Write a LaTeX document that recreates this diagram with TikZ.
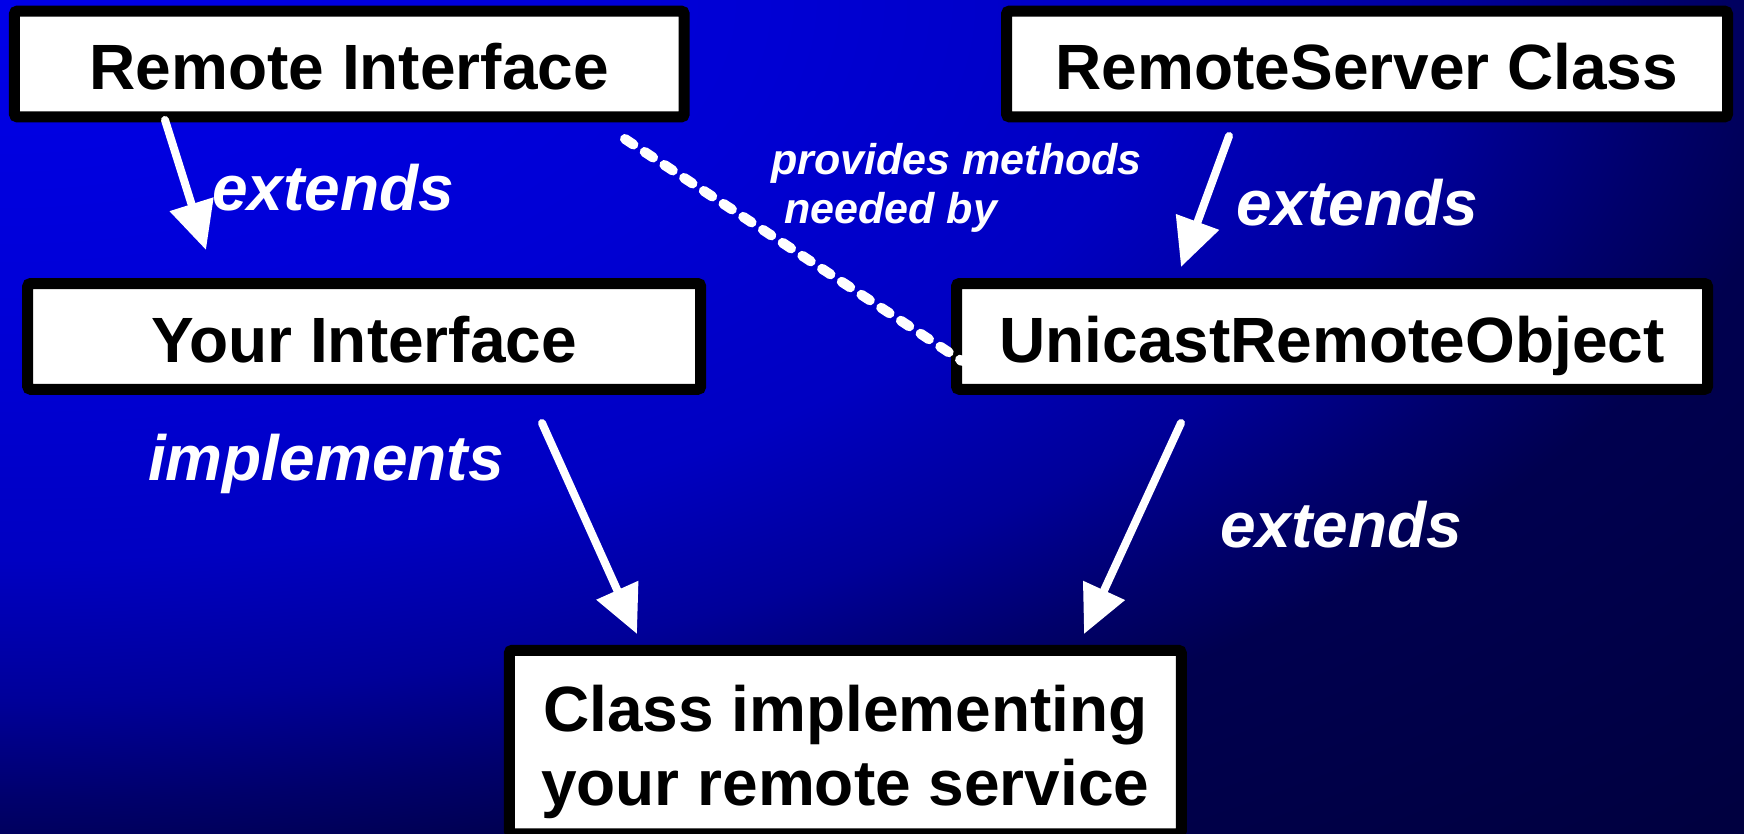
\documentclass[tikz,border=0pt]{standalone}
\usepackage{fontspec}
\setmainfont{Liberation Sans}
\usetikzlibrary{arrows.meta}

% backdrop: bright blue glow from the top-left corner fading to navy
% (the path edge sits at 25bp, i.e. twice the picture size)
\pgfdeclareradialshading{bgglow}{\pgfpoint{0bp}{0bp}}{%
  rgb(0bp)=(0,0,0.91);
  rgb(5.5bp)=(0,0,0.83);
  rgb(8.4bp)=(0,0,0.76);
  rgb(10.5bp)=(0,0,0.60);
  rgb(12bp)=(0,0,0.42);
  rgb(13.1bp)=(0,0,0.31);
  rgb(17.5bp)=(0,0,0.25);
  rgb(25bp)=(0,0,0.22);
  rgb(50bp)=(0,0,0.22)}

\tikzset{
  classbox/.style={draw=black, fill=white, line width=5.5pt, rounded corners=1.5pt,
    inner sep=0pt, text=black, text height=26pt, text depth=0pt,
    font=\bfseries\fontsize{32}{36}\selectfont},
  boxtext/.style={inner sep=0pt, anchor=base, text=black,
    font=\bfseries\fontsize{32}{36}\selectfont},
  relarrow/.style={draw=white, line width=4pt, line cap=round,
    -{Triangle[length=24pt,width=22pt]}},
  uselink/.style={draw=white, line width=5pt, line cap=round,
    dash pattern=on 5pt off 6.8pt},
  rellabel/.style={text=white, inner sep=0pt, anchor=base,
    font=\bfseries\itshape\fontsize{32}{36}\selectfont},
  notelabel/.style={text=white, inner sep=0pt, anchor=base west,
    font=\bfseries\itshape\fontsize{21.5}{24}\selectfont},
}

\begin{document}
\begin{tikzpicture}[x=0.5pt,y=-0.5pt]
\useasboundingbox (0,0) rectangle (1744,834);
\begin{scope}
\clip (0,0) rectangle (1744,834);
\shade[shading=bgglow] (0,0) ellipse [x radius=1744pt, y radius=834pt];

% class boxes
\node[classbox, minimum width=334.9pt, minimum height=52.9pt] (remote) at (349.3,64) {Remote Interface};
\node[classbox, minimum width=360.5pt, minimum height=52.9pt] (server) at (1367,64) {RemoteServer Class};
\node[classbox, minimum width=336.5pt, minimum height=52.9pt] (yours) at (364.2,336.4) {Your Interface};
\node[classbox, minimum width=375.5pt, minimum height=52.9pt] (unicast) at (1332,336.4) {UnicastRemoteObject};
\node[classbox, minimum width=336pt, minimum height=91.75pt] (impl) at (845.3,742) {};
\node[boxtext] (implA) at (845.3,731.8) {Class implementing};
\node[boxtext] (implB) at (845.3,805.2) {your remote service};

% arrow ends
\coordinate (remoteOut) at (165,120);
\coordinate (yoursIn) at (206,250);
\coordinate (serverOut) at (1229,136);
\coordinate (unicastIn) at (1181,267);
\coordinate (yoursOut) at (542,423);
\coordinate (implInL) at (637,634);
\coordinate (unicastOut) at (1181,423);
\coordinate (implInR) at (1084,634);
\coordinate (remoteLink) at (625,139);
\coordinate (unicastLink) at (962,361);

% relations
\draw[relarrow] (remoteOut) -- (yoursIn);
\draw[relarrow] (serverOut) -- (unicastIn);
\draw[relarrow] (yoursOut) -- (implInL);
\draw[relarrow] (unicastOut) -- (implInR);
\draw[uselink] (remoteLink) -- (unicastLink);

% relation labels
\node[rellabel] (ext1) at (333,211) {extends};
\node[rellabel] (ext2) at (1357,225.8) {extends};
\node[rellabel] (impls) at (326,480.5) {implements};
\node[rellabel] (ext3) at (1341,547) {extends};
\node[notelabel] (note1) at (771,175) {provides methods};
\node[notelabel] (note2) at (784,224) {needed by};
\end{scope}
\end{tikzpicture}
\end{document}
